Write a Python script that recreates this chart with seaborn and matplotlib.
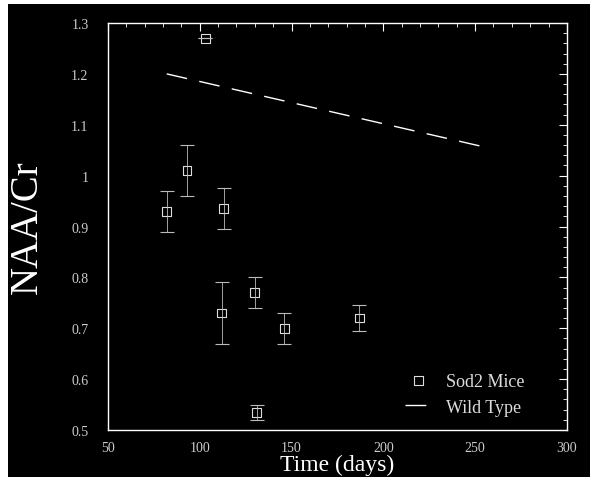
import pandas as pd
import matplotlib.pyplot as plt
import seaborn as sns
from matplotlib.patches import Rectangle
from matplotlib.ticker import MultipleLocator

# Values
mut_time = [82, 93, 103, 113, 112, 130, 131, 146, 187]
mut_naa = [0.93, 1.01, 1.27, 0.935, 0.73, 0.77, 0.535, 0.70, 0.72]
mut_err = [0.04, 0.05, 0.0, 0.04, 0.06, 0.03, 0.015, 0.03, 0.025]

wt_time = [82, 253]
wt_naa = [1.20, 1.058]

x_ticks = [50, 100, 150, 200, 250, 300]
x_labels = ["50", "100", "150", "200", "250", "300"]
y_ticks = [0.5, 0.6, 0.7, 0.8, 0.9, 1.0, 1.1, 1.2, 1.3]
y_labels = ["0.5", "0.6", "0.7", "0.8", "0.9", "1", "1.1", "1.2", "1.3"]

mut = pd.DataFrame({"Time": mut_time, "NAA": mut_naa, "err": mut_err})
wt = pd.DataFrame({"Time": wt_time, "NAA": wt_naa})

sns.set_style("dark")
plt.rcParams["font.family"] = ["Liberation Serif", "DejaVu Serif"]

fig = plt.figure(figsize=(5.98, 4.85), dpi=100)
fig.patch.set_facecolor("white")
fig.patches.append(Rectangle((8 / 598, 7 / 485), 582 / 598, 473 / 485,
                             transform=fig.transFigure, facecolor="black",
                             edgecolor="none", zorder=-10))

ax = fig.add_axes([0.1806, 0.1113, 0.7674, 0.8392])
ax.set_facecolor("black")

sns.lineplot(data=wt, x="Time", y="NAA", ax=ax, color="white", lw=1.0,
             label="Wild Type")
ax.lines[-1].set_dashes([15, 9])

ax.errorbar(mut["Time"], mut["NAA"], yerr=mut["err"], fmt="none",
            ecolor="#bbbbbb", elinewidth=0.6, capsize=5, capthick=0.8)
sns.scatterplot(data=mut, x="Time", y="NAA", ax=ax, marker="s", s=40,
                facecolor="none", edgecolor="#dddddd", linewidth=0.8,
                label="Sod2 Mice")

ax.set_xlim(50, 300)
ax.set_ylim(0.5, 1.3)
ax.set_xticks(x_ticks)
ax.set_xticklabels(x_labels)
ax.set_yticks(y_ticks)
ax.set_yticklabels(y_labels)
ax.xaxis.set_minor_locator(MultipleLocator(10))
ax.yaxis.set_minor_locator(MultipleLocator(0.02))
ax.tick_params(which="both", direction="in", colors="white", top=True,
               right=True, labelcolor="#cccccc", labelsize=10)
ax.tick_params(which="major", length=6, width=0.8)
ax.tick_params(which="minor", length=3, width=0.6)
ax.tick_params(axis="x", pad=8)
ax.tick_params(axis="y", pad=14)
ax.grid(False)
for s in ax.spines.values():
    s.set_visible(True)
    s.set_color("white")
    s.set_linewidth(1.0)

ax.set_xlabel("Time (days)", color="white", fontsize=17, labelpad=0)
ax.set_ylabel("NAA/Cr", color="white", fontsize=28, labelpad=18)

h, l = ax.get_legend_handles_labels()
leg = ax.legend(h[::-1], l[::-1], loc="lower right", frameon=False,
                fontsize=13, labelcolor="#dddddd", handlelength=1.5,
                borderaxespad=0.4, bbox_to_anchor=(0.94, 0.0))

fig.savefig("out.png", dpi=100)
